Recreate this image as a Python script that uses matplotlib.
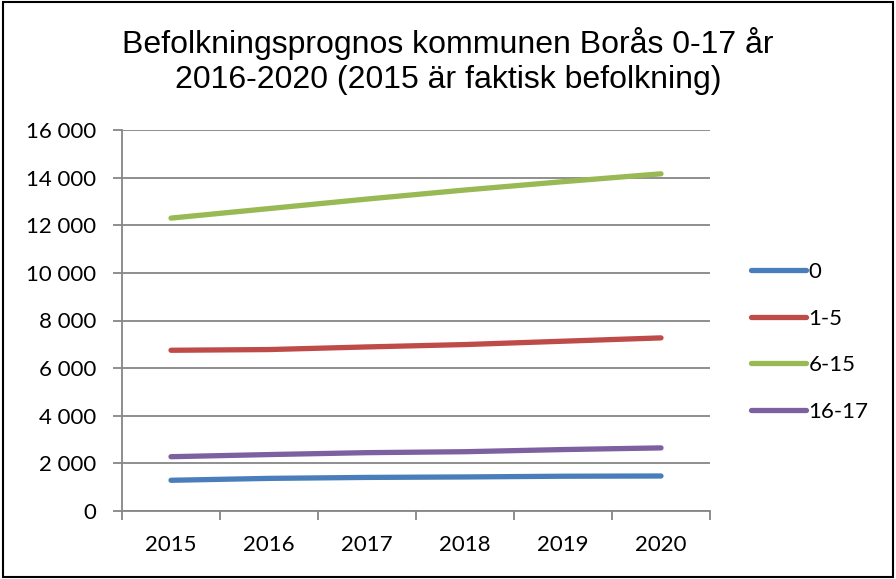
import matplotlib
matplotlib.use("Agg")
import matplotlib.pyplot as plt
import matplotlib.transforms as mtrans
from matplotlib.ticker import FuncFormatter, FixedLocator
from matplotlib.patches import Rectangle

years = ["2015", "2016", "2017", "2018", "2019", "2020"]
age_0 = [1290, 1370, 1410, 1430, 1460, 1470]
age_1_5 = [6750, 6780, 6890, 6990, 7130, 7270]
age_6_15 = [12300, 12700, 13100, 13480, 13830, 14160]
age_16_17 = [2280, 2370, 2450, 2490, 2580, 2650]
series_labels = ["0", "1-5", "6-15", "16-17"]
colors = ["#4A7EBB", "#BE4B48", "#98B954", "#7D60A0"]

plt.rcParams['font.family'] = ['Lato', 'DejaVu Sans']
tick_fs = 16

fig = plt.figure(figsize=(8.96, 5.79), dpi=100)
ax = fig.add_axes([122/896, 1-511/579, 588/896, 381/579])

x = [i + 0.5 for i in range(len(years))]
lines = []
for vals, lab, c in zip([age_0, age_1_5, age_6_15, age_16_17], series_labels, colors):
    ln, = ax.plot(x, vals, color=c, lw=3.8, solid_capstyle='round', label=lab)
    lines.append(ln)

ax.set_xlim(0, len(years))
ax.set_ylim(0, 16000)
ax.set_yticks(range(0, 16001, 2000))
ax.yaxis.set_major_formatter(FuncFormatter(lambda v, p: f"{int(v):,}".replace(",", " ")))
ax.xaxis.set_major_locator(FixedLocator(range(0, len(years) + 1)))
ax.set_xticklabels([])
blend = mtrans.blended_transform_factory(ax.transData, fig.transFigure)
for xi, y in zip(x, years):
    ax.text(xi, 1 - 545/579, y, transform=blend, ha='center', va='center', fontsize=tick_fs)

ax.grid(axis='y', color='#868686', lw=1.3)
ax.set_axisbelow(True)
for s in ['top', 'right']:
    ax.spines[s].set_visible(False)
for s in ['left', 'bottom']:
    ax.spines[s].set_color('#868686')
    ax.spines[s].set_linewidth(1.3)
ax.tick_params(axis='y', length=6.5, color='#868686', width=1.3, labelsize=tick_fs, pad=12)
ax.tick_params(axis='x', length=6.5, color='#868686', width=1.3)

fig.text(0.5, 1-61/579, "Befolkningsprognos kommunen Borås 0-17 år\n2016-2020 (2015 är faktisk befolkning)",
         ha='center', va='center', fontsize=23, linespacing=1.2, family=['Liberation Sans', 'DejaVu Sans'])

leg = fig.legend(handles=lines, loc='upper left', bbox_to_anchor=(742/896, 1-253/579),
                 frameon=False, fontsize=tick_fs, handlelength=2.5, handletextpad=0.1,
                 labelspacing=1.2, borderaxespad=0)

fig.patches.append(Rectangle((3/896, 2/579), 890/896, 575/579, transform=fig.transFigure,
                             fill=False, edgecolor='black', lw=1.5))

fig.savefig("out.png", dpi=100)
